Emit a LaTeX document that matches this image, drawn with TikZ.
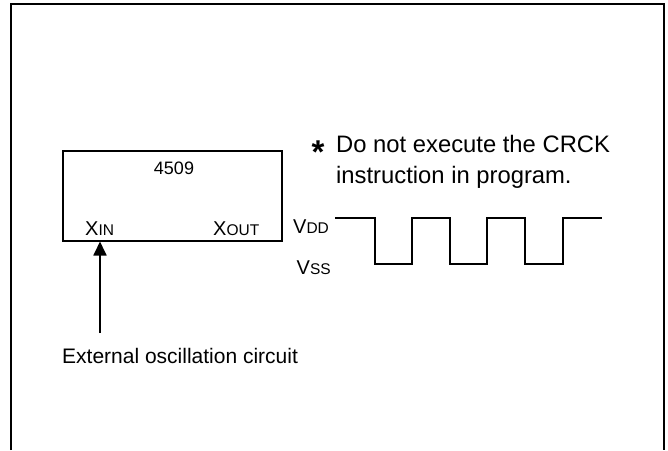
\documentclass[tikz,border=0pt]{standalone}
\usepackage{fontspec}
\setmainfont{Liberation Sans}
\usetikzlibrary{arrows.meta}
\newcommand{\fs}[1]{\fontsize{#1}{#1}\selectfont}
\newcommand{\sigtxt}[2]{{\fs{20}#1}{\fs{15.5}#2}}
\tikzset{
  x=1pt,y=-1pt,
  lbl/.style={inner sep=0pt,anchor=base west,font=\fs{21}},
  note/.style={inner sep=0pt,anchor=base west,font=\fs{23.8}},
  wire/.style={line width=1.8pt,line cap=butt,line join=miter}
}
\begin{document}
\begin{tikzpicture}
\useasboundingbox (0,0) rectangle (668,450);
\draw[line width=2.6pt] (11,450) -- (11,4) -- (664,4) -- (664,450);
\node[draw,line width=2pt,minimum width=219pt,minimum height=90pt,inner sep=0pt,outer sep=0pt] (chip) at (172,195.5) {};
\node[lbl,anchor=base,font=\fs{18}] (n4509) at (174,174.5) {4509};
\node[lbl] (xin) at (85,235) {\sigtxt{X}{IN}};
\node[lbl] (xout) at (213,235) {\sigtxt{X}{OUT}};
\coordinate (src) at (100,333);
\coordinate (tip) at (100,241.5);
\draw[wire,-{Triangle[length=14pt,width=13pt]}] (src) -- (tip);
\node[lbl] (ext) at (62,363) {External oscillation circuit};
\node[lbl] (vdd) at (293,233) {\sigtxt{V}{DD}};
\node[lbl] (vss) at (296.5,274) {\sigtxt{V}{SS}};
\node[inner sep=0pt,anchor=base,font=\bfseries\fs{33}] (star) at (318,163) {*};
\node[note] (l1) at (336,152) {Do not execute the CRCK};
\node[note] (l2) at (336,183.5) {instruction in program.};
\draw[wire] (335,218) -- (375,218) -- (375,264) -- (412,264) -- (412,218) -- (450,218) -- (450,264) -- (487,264) -- (487,218) -- (525,218) -- (525,264) -- (563,264) -- (563,218) -- (602,218);
\end{tikzpicture}
\end{document}
